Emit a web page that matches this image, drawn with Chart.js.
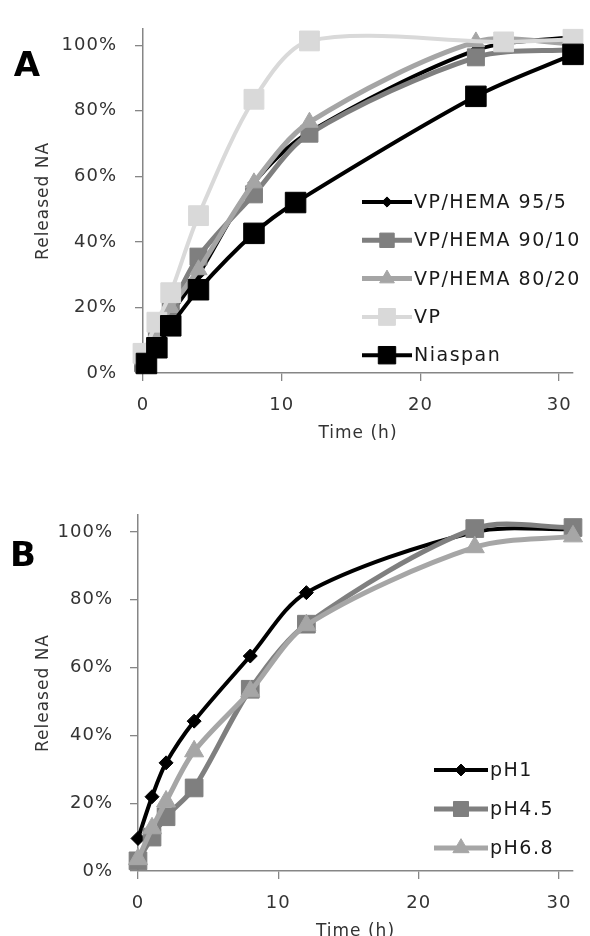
<!DOCTYPE html>
<html lang="en">

<head>
    <meta charset="UTF-8">
    <title>Released NA</title>
    <script src="https://cdn.jsdelivr.net/npm/chart.js"></script>
    <style>
        body { margin: 0; background: #fff; }
        .panel { position: relative; width: 590px; height: 468px; overflow: hidden; }
    </style>
</head>

<body>
    <div class="panel"><canvas id="chartA" width="590" height="468"></canvas></div>
    <div class="panel"><canvas id="chartB" width="590" height="468"></canvas></div>

    <script>
        // panel A - time (h) and released NA (%)
        const tHema = [0, 1, 2, 4, 8, 12, 24, 31];
        const tVP = [0, 1, 2, 4, 8, 12, 26, 31];
        const tNiaspan = [0.25, 1, 2, 4, 8, 11, 24, 31];
        const hema955 = [3.5, 11, 18, 30, 58, 73.5, 98.5, 102.5];
        const hema9010 = [3, 10.5, 19.5, 35.5, 54.5, 73, 96.3, 98.7];
        const hema8020 = [4, 12, 20, 31.5, 58, 76.5, 101, 100.5];
        const vp = [6, 15.5, 24.5, 48, 83.5, 101.3, 101, 101.8];
        const niaspan = [2.9, 7.7, 14.4, 25.4, 42.6, 52, 84.4, 97.2];

        // panel B
        const tB = [0, 1, 2, 4, 8, 12, 24, 31];
        const ph1 = [9.6, 21.9, 31.9, 44.2, 63.4, 82.1, 100, 100.8];
        const ph45 = [3, 10, 16, 24.5, 53.6, 72.8, 101, 101.3];
        const ph68 = [3.5, 12.6, 20.5, 35.3, 53, 72.5, 95.5, 98.7];

        const xTicks = [0, 10, 20, 30];
        const yTicks = [0, 20, 40, 60, 80, 100];

        const pts = (xs, ys) => xs.map((x, i) => ({ x: x, y: ys[i] }));

        function series(label, xs, ys, color, style, radius, width, order) {
            return {
                label: label,
                data: pts(xs, ys),
                borderColor: color,
                backgroundColor: color,
                pointBackgroundColor: color,
                pointBorderColor: color,
                pointBorderWidth: 1,
                pointStyle: style,
                pointRadius: radius,
                borderWidth: width,
                tension: 0.3,
                clip: false,
                order: order
            };
        }

        // letter + legend drawn inside the plot
        const panelDeco = {
            id: 'panelDeco',
            beforeDraw(chart) { chart.ctx.letterSpacing = '1px'; },
            afterDraw(chart, args, o) {
                const ctx = chart.ctx;
                ctx.save();
                ctx.letterSpacing = '0px';
                ctx.fillStyle = '#000';
                ctx.font = 'bold 34px "DejaVu Sans"';
                ctx.textAlign = 'center';
                ctx.textBaseline = 'middle';
                ctx.fillText(o.letter, o.letterX, o.letterY);

                ctx.font = '19px "DejaVu Sans"';
                ctx.letterSpacing = '1.5px';
                ctx.textAlign = 'left';
                chart.data.datasets.forEach((ds, i) => {
                    const y = o.legendY + i * o.legendGap;
                    ctx.strokeStyle = ds.borderColor;
                    ctx.lineWidth = ds.borderWidth;
                    ctx.beginPath();
                    ctx.moveTo(o.legendX, y);
                    ctx.lineTo(o.legendX + o.lineLen, y);
                    ctx.stroke();
                    ctx.fillStyle = ds.pointBackgroundColor;
                    ctx.strokeStyle = ds.pointBorderColor;
                    ctx.lineWidth = 1;
                    Chart.helpers.drawPoint(ctx, {
                        pointStyle: ds.pointStyle, radius: ds.pointRadius * 0.85, rotation: 0, borderWidth: 1
                    }, o.legendX + o.lineLen / 2, y);
                    ctx.fillStyle = '#1a1a1a';
                    ctx.fillText(ds.label, o.legendX + o.lineLen + 2, y + 1);
                });
                ctx.restore();
                ctx.letterSpacing = '0px';
            }
        };

        function makeOptions(cfg) {
            const axisColor = '#868686';
            const tickFont = { family: '"DejaVu Sans"', size: 18 };
            return {
                responsive: false,
                animation: false,
                layout: { padding: { top: cfg.top, right: 17, left: 0, bottom: 0 } },
                plugins: {
                    legend: { display: false },
                    tooltip: { enabled: false },
                    panelDeco: cfg.deco
                },
                scales: {
                    x: {
                        type: 'linear',
                        min: 0,
                        max: 31,
                        afterBuildTicks: s => { s.ticks = xTicks.map(v => ({ value: v })); },
                        afterFit: s => { s.height = cfg.xHeight; },
                        grid: { drawOnChartArea: false, color: axisColor, lineWidth: 1.3, tickLength: 8 },
                        border: { color: axisColor, width: 1.5 },
                        ticks: { font: tickFont, color: '#333333', padding: 14, maxRotation: 0 },
                        title: {
                            display: true, text: 'Time (h)', color: '#333333',
                            font: { family: '"DejaVu Sans"', size: 17, lineHeight: 1 },
                            padding: { top: 0, bottom: cfg.xTitlePad }
                        }
                    },
                    y: {
                        min: 0,
                        max: 105,
                        afterBuildTicks: s => { s.ticks = yTicks.map(v => ({ value: v })); },
                        afterFit: s => { s.width = cfg.yWidth; },
                        grid: { drawOnChartArea: false, color: axisColor, lineWidth: 1.3, tickLength: 8 },
                        border: { color: axisColor, width: 1.5 },
                        ticks: { font: tickFont, color: '#333333', padding: cfg.yPad, callback: v => v + '%' },
                        title: {
                            display: true, text: 'Released NA', color: '#333333',
                            font: { family: '"DejaVu Sans"', size: 17, lineHeight: 1 },
                            padding: { top: 35, bottom: 0 }
                        }
                    }
                }
            };
        }

        new Chart(document.getElementById('chartA'), {
            type: 'line',
            data: {
                datasets: [
                    series('VP/HEMA 95/5', tHema, hema955, '#000000', 'rectRot', 6, 4, 5),
                    series('VP/HEMA 90/10', tHema, hema9010, '#7f7f7f', 'rect', 12, 5, 4),
                    series('VP/HEMA 80/20', tHema, hema8020, '#a5a5a5', 'triangle', 10, 5, 3),
                    series('VP', tVP, vp, '#d9d9d9', 'rect', 14, 4, 2),
                    series('Niaspan', tNiaspan, niaspan, '#000000', 'rect', 14.5, 4, 1)
                ]
            },
            options: makeOptions({
                top: 20, xHeight: 95, yWidth: 143, yPad: 18, xTitlePad: 26,
                deco: { letter: 'A', letterX: 27, letterY: 67, legendX: 362, lineLen: 50, legendY: 202, legendGap: 38.3 }
            }),
            plugins: [panelDeco]
        });

        new Chart(document.getElementById('chartB'), {
            type: 'line',
            data: {
                datasets: [
                    series('pH1', tB, ph1, '#000000', 'rectRot', 7, 4, 3),
                    series('pH4.5', tB, ph45, '#7f7f7f', 'rect', 12.5, 5, 2),
                    series('pH6.8', tB, ph68, '#a6a6a6', 'triangle', 11, 5, 1)
                ]
            },
            options: makeOptions({
                top: 47, xHeight: 65, yWidth: 138, yPad: 17, xTitlePad: -4,
                deco: { letter: 'B', letterX: 23, letterY: 557 - 468, legendX: 434, lineLen: 54, legendY: 302, legendGap: 39 }
            }),
            plugins: [panelDeco]
        });
    </script>
</body>

</html>
